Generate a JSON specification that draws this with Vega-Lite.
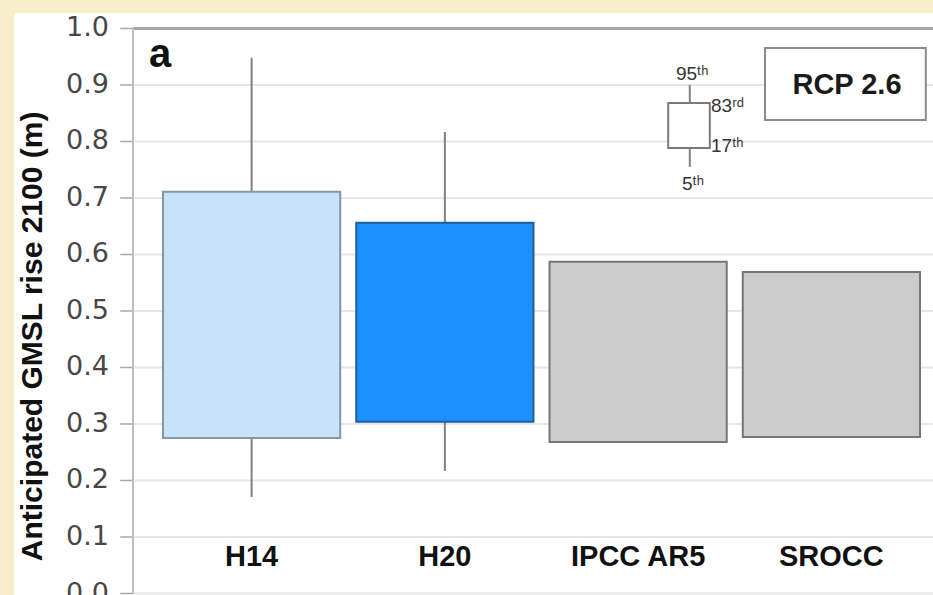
{
  "$schema": "https://vega.github.io/schema/vega-lite/v6.json",
  "width": 919,
  "height": 582,
  "autosize": {"type": "none"},
  "padding": {"left": 14, "top": 13, "right": 0, "bottom": 0},
  "background": "#F7EEC9",
  "config": {"view": {"stroke": null, "fill": "#FFFFFF"}},
  "datasets": {
    "models": [
      {"model": "H14", "p5": 0.171, "p17": 0.275, "p83": 0.711, "p95": 0.948},
      {"model": "H20", "p5": 0.217, "p17": 0.304, "p83": 0.656, "p95": 0.817},
      {"model": "IPCC AR5", "p17": 0.268, "p83": 0.587},
      {"model": "SROCC", "p17": 0.277, "p83": 0.569}
    ],
    "grid": [
      {"v": 0.0}, {"v": 0.1}, {"v": 0.2}, {"v": 0.3}, {"v": 0.4},
      {"v": 0.5}, {"v": 0.6}, {"v": 0.7}, {"v": 0.8}, {"v": 0.9}, {"v": 1.0}
    ],
    "one": [{}]
  },
  "layer": [
    {
      "layer": [
        {
          "data": {"name": "grid"},
          "mark": {"type": "rule", "color": "#e6e6e6", "strokeWidth": 2},
          "encoding": {
            "x": {"datum": 0, "type": "quantitative", "scale": {"domain": [0, 1], "range": [119, 919], "nice": false, "zero": false}, "axis": null},
            "x2": {"datum": 1},
            "y": {"field": "v", "type": "quantitative", "scale": {"domain": [-0.00265, 1.0274], "nice": false, "zero": false}, "axis": null}
          }
        },
        {
          "data": {"name": "grid"},
          "mark": {"type": "rule", "color": "#a8a8a8", "strokeWidth": 1.5},
          "encoding": {
            "x": {"datum": -0.016, "type": "quantitative", "scale": {"domain": [0, 1], "range": [119, 919], "nice": false, "zero": false}, "axis": null},
            "x2": {"datum": 0},
            "y": {"field": "v", "type": "quantitative", "scale": {"domain": [-0.00265, 1.0274], "nice": false, "zero": false}, "axis": null}
          }
        },
        {
          "data": {"name": "grid"},
          "mark": {"type": "text", "font": "DejaVu Sans", "fontSize": 27, "color": "#474747", "align": "right", "baseline": "middle"},
          "encoding": {
            "x": {"datum": -0.03, "type": "quantitative", "scale": {"domain": [0, 1], "range": [119, 919], "nice": false, "zero": false}, "axis": null},
            "y": {"field": "v", "type": "quantitative", "scale": {"domain": [-0.00265, 1.0274], "nice": false, "zero": false}, "axis": null},
            "text": {"field": "v", "type": "quantitative", "format": ".1f"}
          }
        },
        {
          "data": {"name": "one"},
          "mark": {"type": "text", "text": "Anticipated GMSL rise 2100 (m)", "angle": 270, "font": "Liberation Sans", "fontSize": 30, "fontWeight": "bold", "color": "#111111", "align": "center", "baseline": "middle"},
          "encoding": {
            "x": {"datum": -0.125, "type": "quantitative", "scale": {"domain": [0, 1], "range": [119, 919], "nice": false, "zero": false}, "axis": null},
            "y": {"datum": 0.455, "type": "quantitative", "scale": {"domain": [-0.00265, 1.0274], "nice": false, "zero": false}, "axis": null}
          }
        },
        {
          "data": {"name": "one"},
          "mark": {"type": "rule", "color": "#a6a6a6", "strokeWidth": 3},
          "encoding": {
            "x": {"datum": 0, "type": "quantitative", "scale": {"domain": [0, 1], "range": [119, 919], "nice": false, "zero": false}, "axis": null},
            "x2": {"datum": 1},
            "y": {"datum": 1, "type": "quantitative", "scale": {"domain": [-0.00265, 1.0274], "nice": false, "zero": false}, "axis": null}
          }
        },
        {
          "data": {"name": "one"},
          "mark": {"type": "rule", "color": "#bdbdbd", "strokeWidth": 2},
          "encoding": {
            "x": {"datum": 0, "type": "quantitative", "scale": {"domain": [0, 1], "range": [119, 919], "nice": false, "zero": false}, "axis": null},
            "y": {"datum": 0, "type": "quantitative", "scale": {"domain": [-0.00265, 1.0274], "nice": false, "zero": false}, "axis": null},
            "y2": {"datum": 1}
          }
        },
        {
          "data": {"name": "one"},
          "mark": {"type": "text", "text": "a", "font": "Liberation Sans", "fontSize": 40, "fontWeight": "bold", "color": "#111111", "align": "left", "baseline": "alphabetic"},
          "encoding": {
            "x": {"datum": 0.02, "type": "quantitative", "scale": {"domain": [0, 1], "range": [119, 919], "nice": false, "zero": false}, "axis": null},
            "y": {"datum": 0.932, "type": "quantitative", "scale": {"domain": [-0.00265, 1.0274], "nice": false, "zero": false}, "axis": null}
          }
        },
        {
          "data": {"name": "one"},
          "mark": {"type": "rect", "fill": "#FFFFFF", "stroke": "#8a8a8a", "strokeWidth": 2},
          "encoding": {
            "x": {"datum": 0.79, "type": "quantitative", "scale": {"domain": [0, 1], "range": [119, 919], "nice": false, "zero": false}, "axis": null},
            "x2": {"datum": 0.991},
            "y": {"datum": 0.838, "type": "quantitative", "scale": {"domain": [-0.00265, 1.0274], "nice": false, "zero": false}, "axis": null},
            "y2": {"datum": 0.9655}
          }
        },
        {
          "data": {"name": "one"},
          "mark": {"type": "text", "text": "RCP 2.6", "font": "Liberation Sans", "fontSize": 29, "fontWeight": "bold", "color": "#1a1a1a", "align": "center", "baseline": "middle"},
          "encoding": {
            "x": {"datum": 0.8925, "type": "quantitative", "scale": {"domain": [0, 1], "range": [119, 919], "nice": false, "zero": false}, "axis": null},
            "y": {"datum": 0.9, "type": "quantitative", "scale": {"domain": [-0.00265, 1.0274], "nice": false, "zero": false}, "axis": null}
          }
        },
        {
          "data": {"name": "one"},
          "mark": {"type": "rule", "color": "#808080", "strokeWidth": 2},
          "encoding": {
            "x": {"datum": 0.696, "type": "quantitative", "scale": {"domain": [0, 1], "range": [119, 919], "nice": false, "zero": false}, "axis": null},
            "y": {"datum": 0.755, "type": "quantitative", "scale": {"domain": [-0.00265, 1.0274], "nice": false, "zero": false}, "axis": null},
            "y2": {"datum": 0.9}
          }
        },
        {
          "data": {"name": "one"},
          "mark": {"type": "rect", "fill": "#FFFFFF", "stroke": "#7a7a7a", "strokeWidth": 2},
          "encoding": {
            "x": {"datum": 0.669, "type": "quantitative", "scale": {"domain": [0, 1], "range": [119, 919], "nice": false, "zero": false}, "axis": null},
            "x2": {"datum": 0.721},
            "y": {"datum": 0.7885, "type": "quantitative", "scale": {"domain": [-0.00265, 1.0274], "nice": false, "zero": false}, "axis": null},
            "y2": {"datum": 0.868}
          }
        },
        {
          "data": {"name": "one"},
          "mark": {"type": "text", "text": "95ᵗʰ", "font": "Liberation Sans", "fontSize": 19, "color": "#333333", "align": "center", "baseline": "middle"},
          "encoding": {
            "x": {"datum": 0.699, "type": "quantitative", "scale": {"domain": [0, 1], "range": [119, 919], "nice": false, "zero": false}, "axis": null},
            "y": {"datum": 0.92, "type": "quantitative", "scale": {"domain": [-0.00265, 1.0274], "nice": false, "zero": false}, "axis": null}
          }
        },
        {
          "data": {"name": "one"},
          "mark": {"type": "text", "text": "83ʳᵈ", "font": "Liberation Sans", "fontSize": 19, "color": "#333333", "align": "left", "baseline": "middle"},
          "encoding": {
            "x": {"datum": 0.7225, "type": "quantitative", "scale": {"domain": [0, 1], "range": [119, 919], "nice": false, "zero": false}, "axis": null},
            "y": {"datum": 0.862, "type": "quantitative", "scale": {"domain": [-0.00265, 1.0274], "nice": false, "zero": false}, "axis": null}
          }
        },
        {
          "data": {"name": "one"},
          "mark": {"type": "text", "text": "17ᵗʰ", "font": "Liberation Sans", "fontSize": 19, "color": "#333333", "align": "left", "baseline": "middle"},
          "encoding": {
            "x": {"datum": 0.7225, "type": "quantitative", "scale": {"domain": [0, 1], "range": [119, 919], "nice": false, "zero": false}, "axis": null},
            "y": {"datum": 0.792, "type": "quantitative", "scale": {"domain": [-0.00265, 1.0274], "nice": false, "zero": false}, "axis": null}
          }
        },
        {
          "data": {"name": "one"},
          "mark": {"type": "text", "text": "5ᵗʰ", "font": "Liberation Sans", "fontSize": 19, "color": "#333333", "align": "center", "baseline": "middle"},
          "encoding": {
            "x": {"datum": 0.7, "type": "quantitative", "scale": {"domain": [0, 1], "range": [119, 919], "nice": false, "zero": false}, "axis": null},
            "y": {"datum": 0.724, "type": "quantitative", "scale": {"domain": [-0.00265, 1.0274], "nice": false, "zero": false}, "axis": null}
          }
        }
      ]
    },
    {
      "data": {"name": "models"},
      "layer": [
        {
          "transform": [{"filter": "datum.p95 != null"}],
          "mark": {"type": "rule", "color": "#808080", "strokeWidth": 2},
          "encoding": {
            "x": {"field": "model", "type": "nominal", "sort": null, "scale": {"domain": ["H14", "H20", "IPCC AR5", "SROCC"], "range": [149, 906], "paddingInner": 0.083, "paddingOuter": 0}, "axis": null},
            "y": {"field": "p5", "type": "quantitative", "scale": {"domain": [-0.00265, 1.0274], "nice": false, "zero": false}, "axis": null},
            "y2": {"field": "p95"}
          }
        },
        {
          "mark": {"type": "bar", "strokeWidth": 2},
          "encoding": {
            "x": {"field": "model", "type": "nominal", "sort": null, "scale": {"domain": ["H14", "H20", "IPCC AR5", "SROCC"], "range": [149, 906], "paddingInner": 0.083, "paddingOuter": 0}, "axis": null},
            "y": {"field": "p17", "type": "quantitative", "scale": {"domain": [-0.00265, 1.0274], "nice": false, "zero": false}, "axis": null},
            "y2": {"field": "p83"},
            "fill": {"field": "model", "type": "nominal", "scale": {"domain": ["H14", "H20", "IPCC AR5", "SROCC"], "range": ["#C8E2FB", "#1E8FFF", "#CCCCCC", "#CCCCCC"]}, "legend": null},
            "stroke": {"field": "model", "type": "nominal", "scale": {"domain": ["H14", "H20", "IPCC AR5", "SROCC"], "range": ["#8696a6", "#1d5f9f", "#767676", "#767676"]}, "legend": null}
          }
        },
        {
          "mark": {"type": "text", "font": "Liberation Sans", "fontSize": 29, "fontWeight": "bold", "color": "#111111", "align": "center", "baseline": "middle"},
          "encoding": {
            "x": {"field": "model", "type": "nominal", "sort": null, "scale": {"domain": ["H14", "H20", "IPCC AR5", "SROCC"], "range": [149, 906], "paddingInner": 0.083, "paddingOuter": 0}, "axis": null},
            "y": {"datum": 0.0646, "type": "quantitative", "scale": {"domain": [-0.00265, 1.0274], "nice": false, "zero": false}, "axis": null},
            "text": {"field": "model"}
          }
        }
      ]
    }
  ],
  "resolve": {"scale": {"x": "independent"}}
}
